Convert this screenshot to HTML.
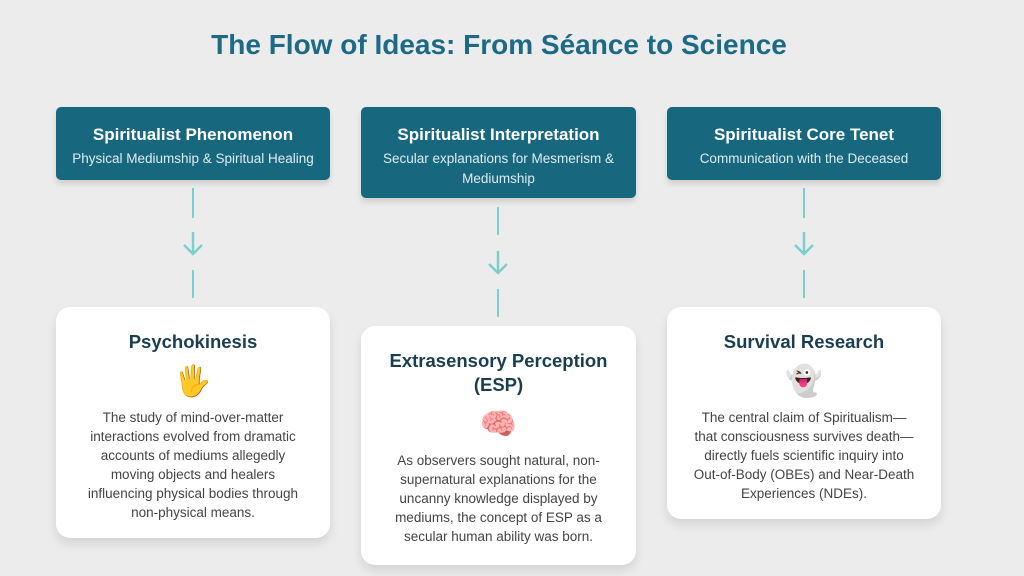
<!DOCTYPE html>
<html><head><meta charset="utf-8"><style>
body{margin:0;width:1024px;height:576px;background:#ececec;font-family:"Liberation Sans",sans-serif;position:relative;overflow:hidden}
.t{position:absolute;top:29px;left:0;width:998px;text-align:center;font-size:28px;font-weight:bold;color:#1c6a85}
.h{position:absolute;background:#17677f;border-radius:5px;color:#fff;text-align:center;box-shadow:0 4px 6px rgba(0,0,0,.12);box-sizing:border-box;padding-top:18px}
.h b{display:block;font-size:17px;margin-bottom:4px}
.h span{display:block;font-size:13.5px;color:#dfecf0;line-height:20px}
.c{position:absolute;background:#fff;border-radius:14px;box-shadow:0 6px 10px rgba(0,0,0,.1);text-align:center;box-sizing:border-box;padding:23px 26px 0}
.c h2{margin:0;font-size:18.5px;color:#1a3e50;line-height:24px}
.c .e{font-size:30px;margin:9px 0 7px;line-height:38px}
.c p{margin:0;font-size:13.5px;color:#444;line-height:19px}
.l{position:absolute;width:2px;background:#7ccfcb}
.a{position:absolute}
</style></head><body>
<div class="t">The Flow of Ideas: From Séance to Science</div>
<div class="h" style="left:56px;top:107px;width:274px;height:73px"><b>Spiritualist Phenomenon</b><span>Physical Mediumship &amp; Spiritual Healing</span></div>
<div class="h" style="left:361px;top:107px;width:275px;height:91px"><b>Spiritualist Interpretation</b><span>Secular explanations for Mesmerism &amp;<br>Mediumship</span></div>
<div class="h" style="left:667px;top:107px;width:274px;height:73px"><b>Spiritualist Core Tenet</b><span>Communication with the Deceased</span></div>
<div class="l" style="left:192px;top:188px;height:30px"></div>
<svg class="a" style="left:181px;top:230px" width="24" height="26"><path d="M12 2V24M3 15L12 24L21 15" stroke="#7ccfcb" stroke-width="2.5" fill="none"/></svg>
<div class="l" style="left:192px;top:270px;height:28px"></div>
<div class="l" style="left:497px;top:207px;height:28px"></div>
<svg class="a" style="left:486px;top:249px" width="24" height="26"><path d="M12 2V24M3 15L12 24L21 15" stroke="#7ccfcb" stroke-width="2.5" fill="none"/></svg>
<div class="l" style="left:497px;top:289px;height:28px"></div>
<div class="l" style="left:803px;top:188px;height:30px"></div>
<svg class="a" style="left:792px;top:230px" width="24" height="26"><path d="M12 2V24M3 15L12 24L21 15" stroke="#7ccfcb" stroke-width="2.5" fill="none"/></svg>
<div class="l" style="left:803px;top:270px;height:28px"></div>
<div class="c" style="left:56px;top:307px;width:274px;height:231px"><h2>Psychokinesis</h2><div class="e">🖐️</div><p>The study of mind-over-matter interactions evolved from dramatic accounts of mediums allegedly moving objects and healers influencing physical bodies through non-physical means.</p></div>
<div class="c" style="left:361px;top:326px;width:275px;height:239px"><h2>Extrasensory Perception<br>(ESP)</h2><div class="e">🧠</div><p>As observers sought natural, non-supernatural explanations for the uncanny knowledge displayed by mediums, the concept of ESP as a secular human ability was born.</p></div>
<div class="c" style="left:667px;top:307px;width:274px;height:212px"><h2>Survival Research</h2><div class="e">👻</div><p>The central claim of Spiritualism—that consciousness survives death—directly fuels scientific inquiry into Out-of-Body (OBEs) and Near-Death Experiences (NDEs).</p></div>
</body></html>
